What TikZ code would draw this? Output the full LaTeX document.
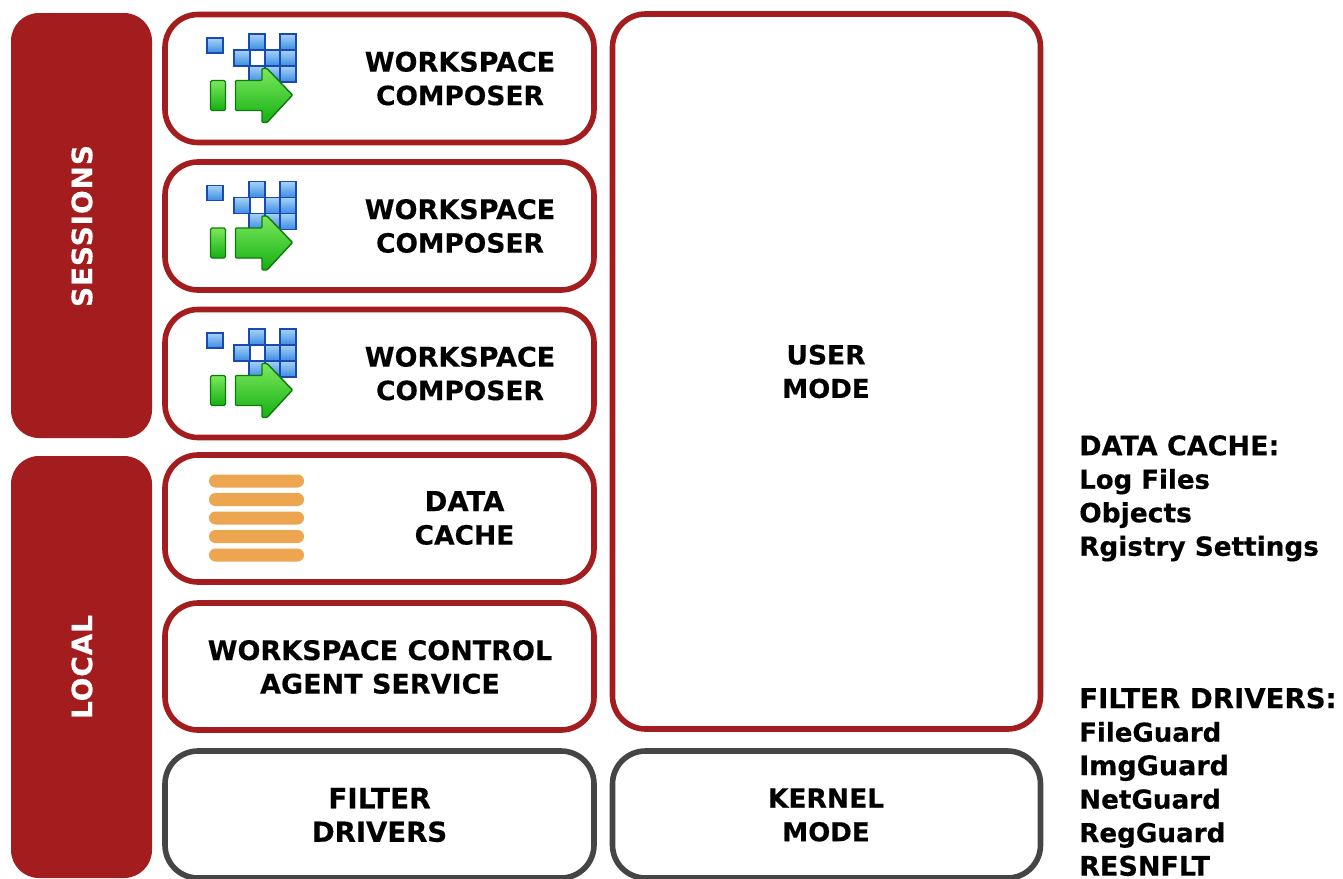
\documentclass[tikz,border=0pt]{standalone}
\usepackage{fontspec}
\setmainfont[BoldFeatures={FakeBold=0.35}]{DejaVu Sans}
\newcommand\fsz[1]{\fontsize{#1}{33.5}\selectfont}
\definecolor{brick}{HTML}{A31D1F}
\definecolor{slate}{HTML}{454545}
\definecolor{barorange}{HTML}{EDA550}
\definecolor{cellblue}{HTML}{1A4AB0}
\definecolor{cellhi}{HTML}{A6D2F6}
\definecolor{celllo}{HTML}{3A8CE4}
\definecolor{greenedge}{HTML}{0E7A0E}
\definecolor{greenhi}{HTML}{7CE85C}
\definecolor{greenlo}{HTML}{14B014}
\tikzset{
  x=1pt,y=-1pt,
  sidebar/.style={fill=brick,draw=none,rounded corners=28pt,inner sep=0pt},
  redbox/.style={draw=brick,line width=5.6pt,fill=white,rounded corners=33pt,inner sep=0pt},
  greybox/.style={draw=slate,line width=5.6pt,fill=white,rounded corners=33pt,inner sep=0pt},
  lbl/.style={font=\fontsize{27}{33.5}\selectfont\bfseries,align=center,text=black,inner sep=0pt},
  listlbl/.style={font=\fontsize{26}{33.5}\selectfont\bfseries,align=left,text=black,inner sep=0pt,anchor=north west},
  sidelbl/.style={font=\fontsize{28}{33.5}\selectfont\bfseries\addfontfeature{LetterSpace=3}\selectfont,text=white,inner sep=0pt,rotate=90},
  cell/.style={draw=cellblue,line width=1.6pt,top color=cellhi,bottom color=celllo},
  gshape/.style={draw=greenedge,line width=1.4pt,line join=round,top color=greenhi,bottom color=greenlo},
  cachebar/.style={fill=barorange,draw=none,rounded corners=6.4pt},
  pics/composericon/.style={code={
    \draw[cell] (207,38) rectangle (223,53);
    \foreach \cx/\cy in {249/34,280/34,234/50,265/50,280/50,249/66,265/66,280/66}
      \draw[cell] (\cx,\cy) rectangle ++(16,16);
    \draw[gshape,rounded corners=1.5pt] (210.5,80.5) rectangle (225.5,110.5);
    \draw[gshape,rounded corners=1pt] (235.5,80.5) -- (262,80.5) -- (262,68.5) -- (267,68.5) -- (292.5,95) -- (267,122.5) -- (262,122.5) -- (262,110.5) -- (235.5,110.5) -- cycle;
  }}
}
\begin{document}
\begin{tikzpicture}
\useasboundingbox (0,0) rectangle (1343,878);
\fill[white] (0,0) rectangle (1343,878);
% side bars
\draw[sidebar] (11,13) rectangle (152,438);
\node[sidelbl] (sessions) at (82,226) {SESSIONS};
\draw[sidebar] (11,456) rectangle (152,878);
\node[sidelbl] (local) at (82,667) {LOCAL};
% left column
\node[redbox,minimum width=429pt,minimum height=128pt] (wc1) at (379.5,78.5) {};
\node[redbox,minimum width=429pt,minimum height=128pt] (wc2) at (379.5,226) {};
\node[redbox,minimum width=429pt,minimum height=128pt] (wc3) at (379.5,373.5) {};
\node[redbox,minimum width=429pt,minimum height=127pt] (dc) at (379.5,518.5) {};
\node[redbox,minimum width=429pt,minimum height=127pt] (agent) at (379.5,666.5) {};
\node[greybox,minimum width=429pt,minimum height=127pt] (filter) at (379.5,814.5) {};
% right column
\node[redbox,minimum width=428pt,minimum height=715pt] (user) at (826.5,371.5) {};
\node[greybox,minimum width=428pt,minimum height=127pt] (kernel) at (826.5,814.5) {};
% icons
\pic at (0,0) {composericon};
\pic at (0,147.5) {composericon};
\pic at (0,295) {composericon};
\foreach \by in {474.5,493,511.5,530,548.5}
  \draw[cachebar] (209,\by) rectangle ++(95,13);
% labels
\node[lbl] (t1) at (460,78.5) {WORKSPACE\\\fsz{26.5}COMPOSER};
\node[lbl] (t2) at (460,226) {WORKSPACE\\\fsz{26.5}COMPOSER};
\node[lbl] (t3) at (460,373.5) {WORKSPACE\\\fsz{26.5}COMPOSER};
\node[lbl] (t4) at (464.5,518) {\fsz{27.5}DATA\\\fsz{26.5}CACHE};
\node[lbl] (t5) at (380,667) {WORKSPACE CONTROL\\AGENT SERVICE};
\node[lbl] (t6) at (379.5,815) {\fsz{28}FILTER\\\fsz{27.5}DRIVERS};
\node[lbl] (t7) at (826,371.5) {\fsz{26.5}USER\\\fsz{26}MODE};
\node[lbl] (t8) at (826,815) {\fsz{26.5}KERNEL\\\fsz{26}MODE};
\node[listlbl] (cachelist) at (1079,435) {\fsz{27}DATA CACHE:\\\fsz{26}Log Files\\\fsz{26.5}Objects\\\fsz{26.3}Rgistry Settings};
\node[listlbl] (filterlist) at (1079,687.5) {\fsz{27.6}FILTER DRIVERS:\\\fsz{26}FileGuard\\\fsz{27}ImgGuard\\\fsz{26.2}NetGuard\\\fsz{26.2}RegGuard\\\fsz{27}RESNFLT};
\end{tikzpicture}
\end{document}
